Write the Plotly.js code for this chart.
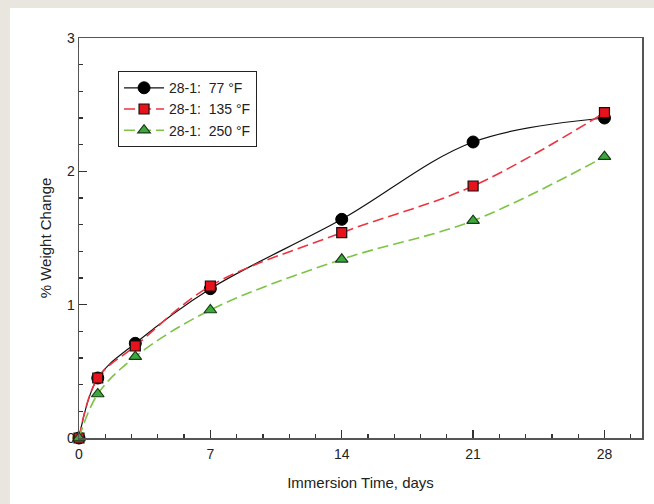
<!DOCTYPE html>
<html>
<head>
<meta charset="utf-8">
<script src="https://cdn.plot.ly/plotly-3.0.1.min.js"></script>
<style>
  html, body { margin:0; padding:0; background:#E9E6E0; width:654px; height:504px; overflow:hidden; }
  #chart { position:absolute; left:10px; top:8px; width:644px; height:496px; background:#fff; }
</style>
</head>
<body>
<div id="chart"></div>
<script>
const days = [0, 1, 3, 7, 14, 21, 28];
const temp77 = [0, 0.45, 0.71, 1.12, 1.64, 2.22, 2.40];
const temp135 = [0, 0.45, 0.69, 1.14, 1.54, 1.89, 2.44];
const temp250 = [0, 0.33, 0.61, 0.96, 1.34, 1.63, 2.11];
const seriesNames = ['28-1:  77 °F', '28-1:  135 °F', '28-1:  250 °F'];
const xTicks = [0, 7, 14, 21, 28];
const yTicks = [0, 1, 2, 3];

const traces = [
  {
    x: days, y: temp77, name: seriesNames[0], type: 'scatter', mode: 'lines+markers',
    cliponaxis: false,
    line: {color: '#111111', width: 1.2, shape: 'spline', smoothing: 1},
    marker: {symbol: 'circle', size: 12, color: '#000000', line: {color: '#000', width: 1}}
  },
  {
    x: days, y: temp135, name: seriesNames[1], type: 'scatter', mode: 'lines+markers',
    cliponaxis: false,
    line: {color: '#EE3340', width: 1.6, dash: '11px,5px', shape: 'spline', smoothing: 1},
    marker: {symbol: 'square', size: 10, color: '#E8121C', line: {color: '#111', width: 1.2}}
  },
  {
    x: days, y: temp250, name: seriesNames[2], type: 'scatter', mode: 'lines+markers',
    cliponaxis: false,
    line: {color: '#7CC444', width: 1.6, dash: '11px,5px', shape: 'spline', smoothing: 1},
    marker: {symbol: 'triangle-up', size: 11, color: '#3BAA3A', line: {color: '#1a3a1a', width: 1.2}}
  }
];

const layout = {
  width: 644, height: 496,
  margin: {l: 69, r: 12, t: 30, b: 66},
  paper_bgcolor: '#ffffff',
  plot_bgcolor: '#ffffff',
  font: {family: 'Liberation Sans, Arial, sans-serif', size: 14, color: '#222'},
  showlegend: true,
  legend: {
    x: 0.069, y: 0.9175, xanchor: 'left', yanchor: 'top',
    bgcolor: '#ffffff', bordercolor: '#222', borderwidth: 1.2,
    font: {size: 14, color: '#222'},
    tracegroupgap: 0, itemwidth: 40
  },
  xaxis: {
    range: [0, 30], tickmode: 'array', tickvals: xTicks, ticktext: xTicks.map(String),
    ticks: 'inside', ticklen: 8, tickwidth: 1.3, tickcolor: '#333',
    tickfont: {size: 14, color: '#222'}, ticklabelstandoff: 3,
    minor: {dtick: 1.4, tick0: 0, ticks: 'inside', ticklen: 4, tickwidth: 1.2, tickcolor: '#333'},
    showline: true, mirror: true, linecolor: '#555', linewidth: 1.5,
    showgrid: false, zeroline: false,
    title: {text: 'Immersion Time, days', font: {size: 15, color: '#222'}, standoff: 16},
    automargin: false
  },
  yaxis: {
    range: [0, 3], tickmode: 'array', tickvals: yTicks, ticktext: yTicks.map(String),
    ticks: 'inside', ticklen: 8, tickwidth: 1.3, tickcolor: '#333',
    tickfont: {size: 14, color: '#222'},
    minor: {dtick: 0.2, tick0: 0, ticks: 'inside', ticklen: 4, tickwidth: 1.2, tickcolor: '#333'},
    showline: true, mirror: true, linecolor: '#555', linewidth: 1.5,
    showgrid: false, zeroline: false,
    title: {text: '% Weight Change', font: {size: 15, color: '#222'}, standoff: 11},
    automargin: false
  }
};

Plotly.newPlot('chart', traces, layout, {displayModeBar: false, staticPlot: true});
</script>
</body>
</html>
